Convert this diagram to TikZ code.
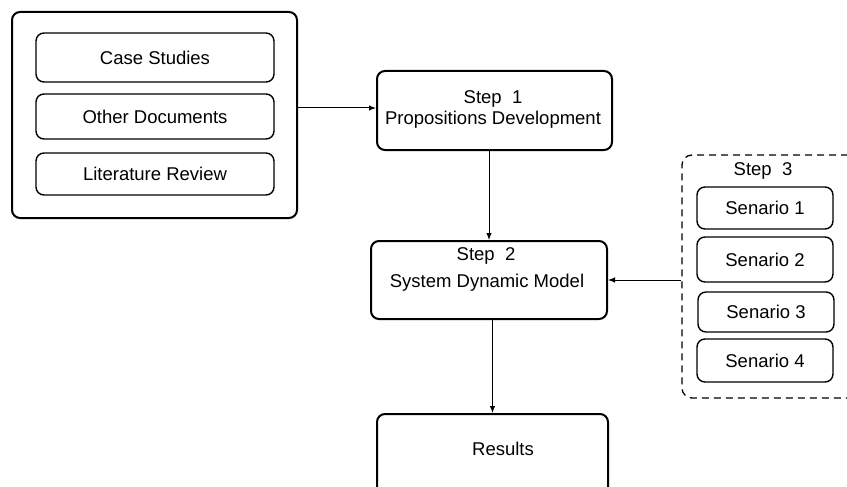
\documentclass[tikz,border=0pt]{standalone}
\usepackage{fontspec}
\setmainfont{Liberation Sans}
\usetikzlibrary{arrows.meta}
\begin{document}
\begin{tikzpicture}[x=1pt,y=-1pt,
  font=\fontsize{18.5}{21}\selectfont,
  bigbox/.style={draw, line width=2pt, rounded corners=8pt, inner sep=0pt},
  smallbox/.style={draw, line width=1.4pt, rounded corners=8pt, inner sep=0pt},
  dashbox/.style={draw, line width=1.3pt, dash pattern=on 7pt off 5pt, rounded corners=10pt, inner sep=0pt},
  txt/.style={inner sep=0pt, align=center},
  arr/.style={line width=1pt, -{Latex[length=7pt,width=5.5pt]}}]
\useasboundingbox (0,0) rectangle (847,487);
\clip (0,0) rectangle (847,487);
% left group
\node[bigbox, minimum width=285pt, minimum height=206pt] (src) at (154.5,115) {};
\node[smallbox, minimum width=238pt, minimum height=49pt] (case) at (155,57.5) {Case Studies};
\node[smallbox, minimum width=238pt, minimum height=45pt] (other) at (155,116.5) {Other Documents};
\node[smallbox, minimum width=238pt, minimum height=42pt] (lit) at (155,174) {Literature Review};
% step 1
\node[bigbox, minimum width=235pt, minimum height=79pt] (step1) at (494.5,110.5) {};
\node[txt] (s1t) at (493,109.5) {Step\ \ 1\\Propositions Development};
% step 2
\node[bigbox, minimum width=236pt, minimum height=78pt] (step2) at (489,280) {};
\node[txt] (s2a) at (486,256) {Step\ \ 2};
\node[txt] (s2b) at (487,283) {System Dynamic Model};
% step 3
\node[dashbox, minimum width=188pt, minimum height=243pt] (step3) at (776,276.5) {};
\node[txt] (s3t) at (763,171) {Step\ \ 3};
\node[smallbox, minimum width=136pt, minimum height=42pt] (sc1) at (765,208) {Senario 1};
\node[smallbox, minimum width=136pt, minimum height=45pt] (sc2) at (765,259.5) {Senario 2};
\node[smallbox, minimum width=136pt, minimum height=40pt] (sc3) at (766,312) {Senario 3};
\node[smallbox, minimum width=136pt, minimum height=43pt] (sc4) at (765,360.5) {Senario 4};
% results
\node[bigbox, minimum width=231pt, minimum height=150pt, anchor=north] (results) at (492.5,413) {};
\node[txt] (rt) at (503,449) {Results};
% connectors
\draw[arr] (src.east |- 0,108) -- (step1.west |- 0,108);
\draw[arr] (step2.north |- step1.south) -- (step2.north);
\draw[arr] (step3.west |- step2.east) -- (step2.east);
\draw[arr] (results.north |- step2.south) -- (results.north);
\end{tikzpicture}
\end{document}
